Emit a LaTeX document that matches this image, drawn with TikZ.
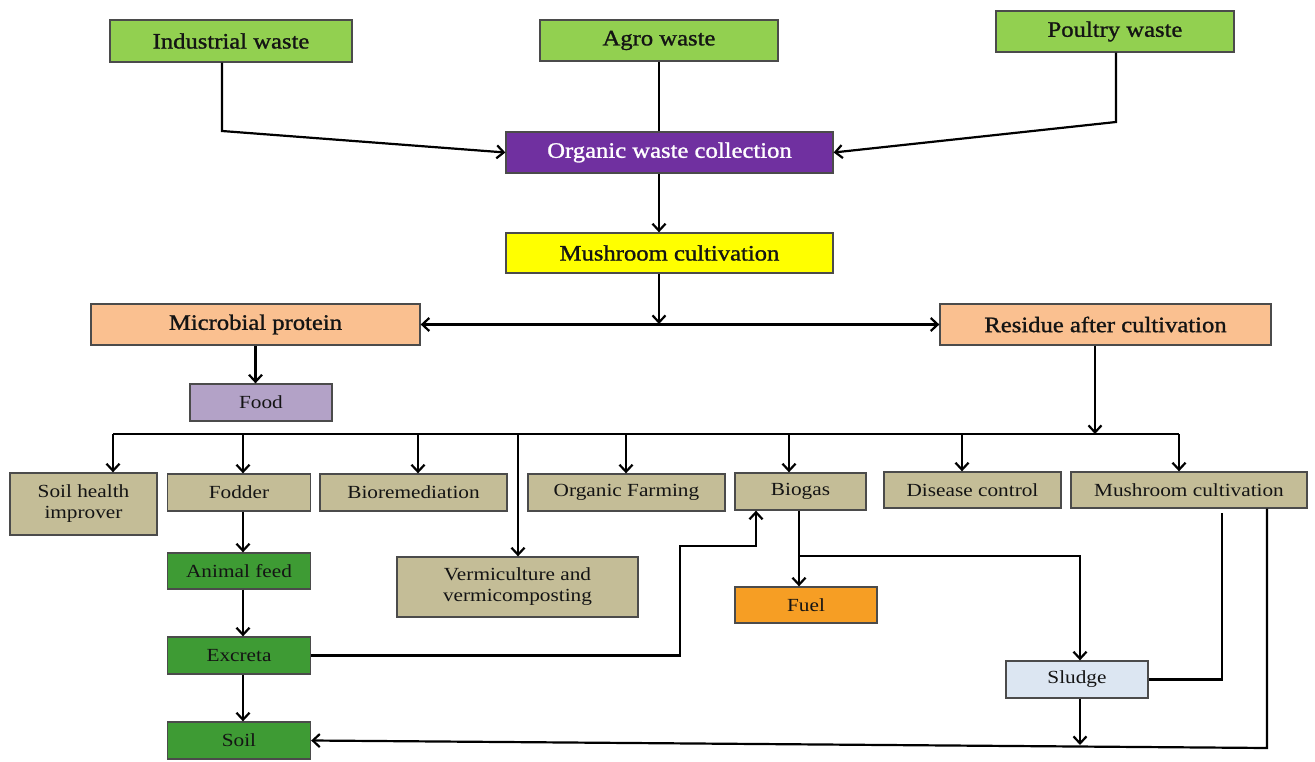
\documentclass[tikz,border=0pt]{standalone}
\usepackage{fontspec}
\setmainfont[FakeStretch=1.15]{Liberation Serif}
\newfontfamily\heavyfont[FakeStretch=1.12,FakeBold=1.2]{Liberation Serif}
\usetikzlibrary{arrows.meta}
\definecolor{lgreen}{RGB}{146,208,80}
\definecolor{dgreen}{RGB}{62,155,52}
\definecolor{purp}{RGB}{112,48,160}
\definecolor{yell}{RGB}{255,255,0}
\definecolor{peach}{RGB}{250,192,144}
\definecolor{lav}{RGB}{179,162,199}
\definecolor{tanc}{RGB}{196,189,151}
\definecolor{fuelc}{RGB}{246,158,36}
\definecolor{sludc}{RGB}{220,230,242}
\definecolor{bordc}{RGB}{75,75,75}
\definecolor{txtc}{RGB}{20,20,20}
\begin{document}
\begin{tikzpicture}[x=1pt,y=-1pt,
  bx/.style={draw=bordc,line width=1.3pt,inner sep=0pt,text=txtc,align=center},
  big/.style={font=\heavyfont\fontsize{22}{24}\selectfont},
  sm/.style={font=\fontsize{18.5}{21}\selectfont},
  ln/.style={line width=2.2pt,draw=black},
  arr/.style={ln,-{Straight Barb[length=7pt,width=13pt]}},
  barr/.style={ln,{Straight Barb[length=7pt,width=13pt]}-{Straight Barb[length=7pt,width=13pt]}}]
\useasboundingbox[fill=white] (0,0) rectangle (1315,762);

% top level
\node[bx,big,fill=lgreen,minimum width=242pt,minimum height=42pt] (ind) at (231,41) {Industrial waste};
\node[bx,big,fill=lgreen,minimum width=238pt,minimum height=41pt] (agro) at (659,40.5) {Agro waste};
\node[bx,big,fill=lgreen,minimum width=238pt,minimum height=41pt] (poul) at (1115,31.5) {Poultry waste};
\node[bx,big,fill=purp,text=white,minimum width=327pt,minimum height=41pt] (org) at (669.5,152.5) {Organic waste collection};
\node[bx,big,fill=yell,minimum width=327pt,minimum height=40pt] (mush) at (669.5,253) {Mushroom cultivation};
\node[bx,big,fill=peach,minimum width=329pt,minimum height=41pt] (micro) at (255.5,324.5) {Microbial protein};
\node[bx,big,fill=peach,minimum width=331pt,minimum height=41pt] (resid) at (1105.5,324.5) {Residue after cultivation};
\node[bx,sm,fill=lav,minimum width=142pt,minimum height=37pt] (food) at (261,402.5) {Food};

% tan row
\node[bx,sm,fill=tanc,minimum width=147pt,minimum height=62pt] (soilh) at (83.5,504) {Soil health\\improver};
\node[bx,sm,fill=tanc,minimum width=143pt,minimum height=37pt] (fodder) at (239,492.5) {Fodder};
\node[bx,sm,fill=tanc,minimum width=187pt,minimum height=37pt] (biorem) at (413.5,492.5) {Bioremediation};
\node[bx,sm,fill=tanc,minimum width=241pt,minimum height=60pt] (verm) at (517.5,587) {Vermiculture and\\vermicomposting};
\node[bx,sm,fill=tanc,minimum width=197pt,minimum height=37pt] (orgf) at (626.5,492.5) {Organic Farming};
\node[bx,sm,fill=tanc,minimum width=131pt,minimum height=37pt] (biogas) at (800.5,491.5) {Biogas};
\node[bx,sm,fill=tanc,minimum width=177pt,minimum height=36pt] (dis) at (972.5,490) {Disease control};
\node[bx,sm,fill=tanc,minimum width=236pt,minimum height=36pt] (mush2) at (1189,490) {Mushroom cultivation};

% lower
\node[bx,sm,fill=dgreen,minimum width=143pt,minimum height=36pt] (animal) at (239,571) {Animal feed};
\node[bx,sm,fill=dgreen,minimum width=143pt,minimum height=37pt] (excr) at (239,655.5) {Excreta};
\node[bx,sm,fill=dgreen,minimum width=143pt,minimum height=37pt] (soil) at (239,740.5) {Soil};
\node[bx,sm,fill=fuelc,minimum width=142pt,minimum height=36pt] (fuel) at (806,605) {Fuel};
\node[bx,sm,fill=sludc,minimum width=142pt,minimum height=37pt] (sludge) at (1077,679.5) {Sludge};

% top connectors
\coordinate (i1) at (222,131);
\draw[arr] (i1 |- ind.south) -- (i1) -- (org.west);
\coordinate (p1) at (1116,122);
\draw[arr] (p1 |- poul.south) -- (p1) -- (org.east);
\coordinate (a1) at (659,0);
\draw[ln] (a1 |- agro.south) -- (a1 |- org.north);
\draw[arr] (a1 |- org.south) -- (a1 |- mush.north);
\coordinate (j) at (659,324);
\draw[arr] (a1 |- mush.south) -- (j);
\draw[barr] (micro.east) -- (resid.west);
\draw[arr] (micro.south) -- (micro.south |- food.north);

% bus
\coordinate (r1) at (1095,434);
\draw[arr] (r1 |- resid.south) -- (r1);
\coordinate (busL) at (113,434);
\coordinate (busR) at (1179,434);
\draw[ln] (busL) -- (busR);
\foreach \n/\x in {soilh/113, fodder/243, biorem/418, verm/518, orgf/626, biogas/789, dis/962, mush2/1179} {
  \coordinate (t) at (\x,434);
  \draw[arr] (t) -- (t |- \n.north);
}

% fodder chain
\coordinate (f0) at (243,0);
\draw[arr] (f0 |- fodder.south) -- (f0 |- animal.north);
\draw[arr] (f0 |- animal.south) -- (f0 |- excr.north);
\draw[arr] (f0 |- excr.south) -- (f0 |- soil.north);

% excreta to biogas
\coordinate (eb) at (756,546);
\draw[arr] (excr.east) -| (680,546) -- (eb) -- (eb |- biogas.south);

% biogas to fuel and sludge
\coordinate (bg) at (799,556);
\coordinate (sl) at (1080,556);
\draw[arr] (bg |- biogas.south) -- (bg |- fuel.north);
\draw[arr] (bg) -- (sl) -- (sl |- sludge.north);

% mushroom cultivation to sludge and soil
\coordinate (m1) at (1222,513);
\draw[ln] (m1) |- (sludge.east);
\coordinate (m2) at (1267,748);
\draw[arr] (m2 |- mush2.south) -- (m2) -- (soil.east);
\coordinate (s2) at (1080,745);
\draw[arr] (s2 |- sludge.south) -- (s2);
\end{tikzpicture}
\end{document}
